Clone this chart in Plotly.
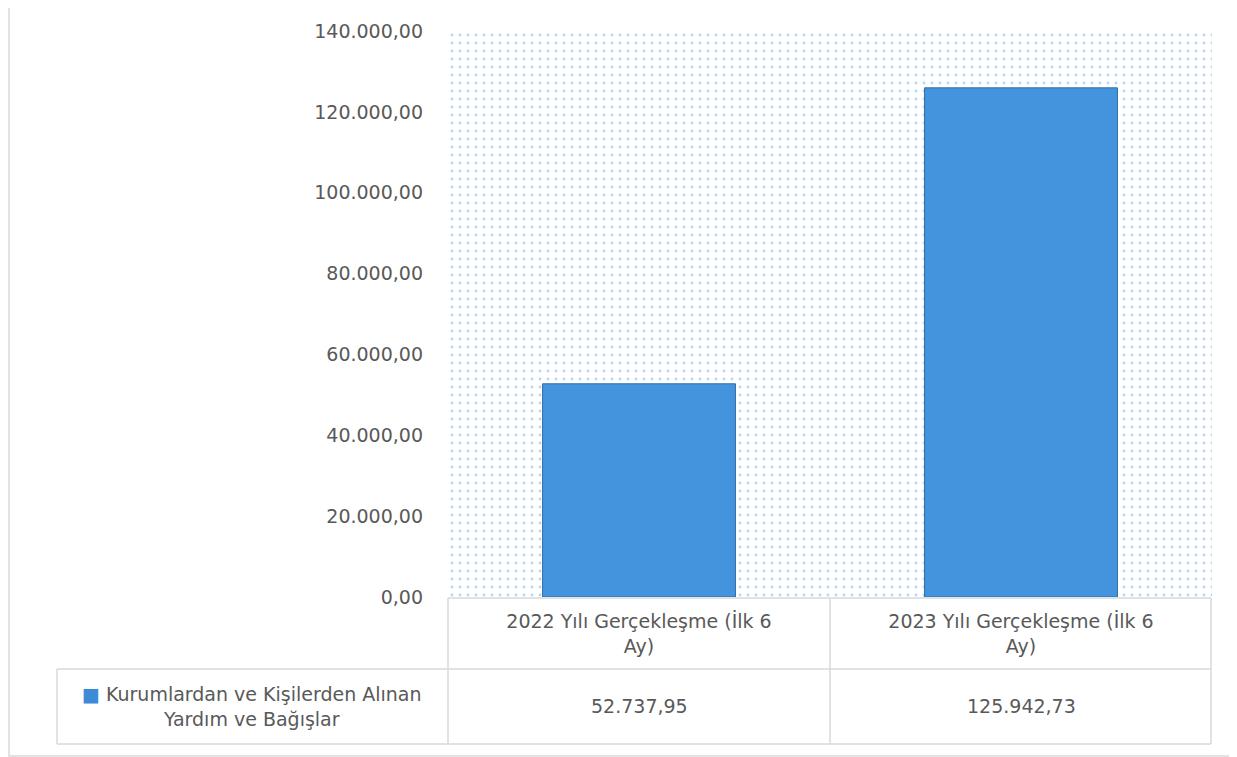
import plotly.graph_objects as go

# data
categories = ["2022 Yılı Gerçekleşme (İlk 6 Ay)", "2023 Yılı Gerçekleşme (İlk 6 Ay)"]
category_ticktext = ["2022 Yılı Gerçekleşme (İlk 6<br>Ay)", "2023 Yılı Gerçekleşme (İlk 6<br>Ay)"]
values = [52737.95, 125942.73]
series_name = "Kurumlardan ve Kişilerden Alınan<br>Yardım ve Bağışlar"
y_tickvals = [0, 20000, 40000, 60000, 80000, 100000, 120000, 140000]

# page body adds an 8px offset, so the figure is sized to fill the rest of the window
OFF = 8
W, H = 1237 - OFF, 757 - OFF
L, R, T, B = 448 - OFF, 25, 31 - OFF, 757 - 597
PW, PH = W - L - R, H - T - B
TEXT = "#595959"
GRID = "#d9d9d9"
FONT = "DejaVu Sans"


def px_x(px):
    # screen pixel -> paper x
    return (px - OFF - L) / PW


def px_y(py):
    # screen pixel -> paper y
    return (H - B - (py - OFF)) / PH


def tr_fmt(v):
    s = f"{v:,.2f}"
    return s.replace(",", "X").replace(".", ",").replace("X", ".")


fig = go.Figure()

# dotted background of the plot area (base axes, hidden)
fig.add_trace(
    go.Scatter(
        x=[0, 1, 1, 0, 0],
        y=[0, 0, 1, 1, 0],
        fill="toself",
        mode="none",
        fillcolor="white",
        fillpattern=dict(shape=".", fgcolor="#6eaaea", bgcolor="white", size=8, solidity=0.1),
        hoverinfo="skip",
        showlegend=False,
        xaxis="x",
        yaxis="y",
    )
)

fig.add_trace(
    go.Bar(
        x=categories,
        y=values,
        name=series_name,
        marker=dict(color="#4394dc", line=dict(color="#2f6ea8", width=1)),
        showlegend=False,
        xaxis="x2",
        yaxis="y2",
    )
)

# data table: value row
for cat, v in zip(categories, values):
    fig.add_annotation(
        x=cat, xref="x2", y=px_y(706), yref="paper",
        xanchor="center", yanchor="middle",
        text=tr_fmt(v), showarrow=False,
        font=dict(family=FONT, size=19, color=TEXT),
    )

fig.add_annotation(
    x=px_x(252), xref="paper", y=px_y(706), yref="paper",
    xanchor="center", yanchor="middle",
    text='<span style="color:#3d8bd6">■</span> ' + series_name,
    showarrow=False, align="center",
    font=dict(family=FONT, size=19, color=TEXT),
)

line = dict(color=GRID, width=1.5)
shapes = [
    # outer chart border
    dict(type="rect", x0=px_x(9), x1=px_x(1260), y0=px_y(756), y1=px_y(-10), line=dict(color="#d9d9d9", width=1.5)),
    # table grid
    dict(type="line", x0=px_x(448), x1=px_x(1211), y0=px_y(598), y1=px_y(598), line=line),
    dict(type="line", x0=px_x(57), x1=px_x(1211), y0=px_y(669), y1=px_y(669), line=line),
    dict(type="line", x0=px_x(57), x1=px_x(1211), y0=px_y(744), y1=px_y(744), line=line),
    dict(type="line", x0=px_x(57), x1=px_x(57), y0=px_y(669), y1=px_y(744), line=line),
    dict(type="line", x0=px_x(448), x1=px_x(448), y0=px_y(598), y1=px_y(744), line=line),
    dict(type="line", x0=px_x(830), x1=px_x(830), y0=px_y(598), y1=px_y(744), line=line),
    dict(type="line", x0=px_x(1211), x1=px_x(1211), y0=px_y(598), y1=px_y(744), line=line),
]
for s in shapes:
    s.update(xref="paper", yref="paper", layer="above")

fig.update_layout(
    width=W,
    height=H,
    margin=dict(l=L, r=R, t=T, b=B),
    paper_bgcolor="white",
    plot_bgcolor="white",
    separators=",.",
    bargap=0.495,
    shapes=shapes,
    font=dict(family=FONT, color=TEXT),
    xaxis=dict(range=[0, 1], visible=False, fixedrange=True),
    yaxis=dict(range=[0.004, 0.996], visible=False, fixedrange=True),
    xaxis2=dict(
        overlaying="x",
        type="category",
        tickvals=categories,
        ticktext=category_ticktext,
        showgrid=False,
        showline=False,
        ticks="",
        ticklabelstandoff=11,
        tickfont=dict(family=FONT, size=19, color=TEXT),
    ),
    yaxis2=dict(
        overlaying="y",
        range=[0, 140000],
        tickvals=y_tickvals,
        tickformat=",.2f",
        showgrid=False,
        zeroline=False,
        showline=False,
        ticks="",
        ticklabelstandoff=24,
        tickfont=dict(family=FONT, size=19, color=TEXT),
    ),
)

fig.write_html("out.html")
